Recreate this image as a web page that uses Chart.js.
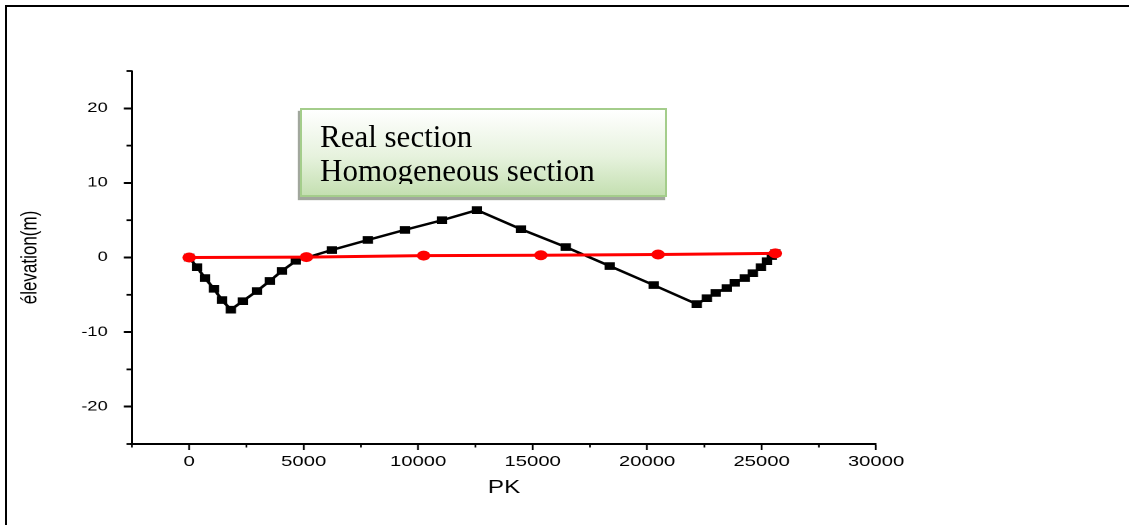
<!DOCTYPE html>
<html>
<head>
<meta charset="utf-8">
<script src="https://cdn.jsdelivr.net/npm/chart.js@4.4.1/dist/chart.umd.min.js"></script>
<style>
  html, body { margin: 0; padding: 0; background: #fff; }
  body { width: 1129px; height: 525px; position: relative; overflow: hidden; }
  #frame {
    position: absolute; left: 5px; top: 5px; right: -20px; bottom: -20px;
    border-top: 2px solid #000; border-left: 2px solid #000;
  }
  #wrap {
    position: absolute; left: 0; top: 0; width: 836px; height: 525px;
    transform: scaleX(1.35048); transform-origin: 0 0;
  }
  #note {
    position: absolute; left: 300px; top: 108px; width: 363px; height: 85px;
    border: 2px solid #a4cd8b;
    background: linear-gradient(to bottom, #ffffff 0%, #e6f2dd 55%, #c4dfb1 100%);
    box-shadow: -2px 3px 1px rgba(110, 120, 105, 0.65);
  }
  #noteText {
    position: absolute; left: 320px; top: 120px; width: 340px; height: 64px;
    overflow: hidden; font-family: "Liberation Serif", "Times New Roman", serif;
    font-size: 31px; line-height: 34px; color: #000; white-space: nowrap;
  }
</style>
</head>
<body>
<div id="frame"></div>
<div id="wrap"><canvas id="c"></canvas></div>
<div id="note"></div>
<div id="noteText"></div>
<script>
// Longitudinal profile: chainage PK (m) against elevation (m)
const seriesNames = ['Real section', 'Homogeneous section'];

const pkReal = [0, 340, 690, 1080, 1430, 1820, 2340, 2960, 3520, 4050, 4660,
  6230, 7800, 9420, 11040, 12570, 14490, 16450, 18370, 20290, 22170,
  22610, 23000, 23480, 23830, 24270, 24620, 24970, 25230, 25450, 25600];
const elevReal = [0, -1.3, -2.75, -4.2, -5.7, -7.0, -5.85, -4.5, -3.15, -1.8, -0.45,
  1.0, 2.35, 3.7, 5.0, 6.35, 3.8, 1.4, -1.15, -3.7, -6.25,
  -5.45, -4.75, -4.1, -3.4, -2.75, -2.1, -1.3, -0.5, 0.2, 0.6];

const pkHomog = [0, 5120, 10240, 15360, 20480, 25600];
const elevHomog = [0, 0.05, 0.25, 0.3, 0.4, 0.55];

const pkMajorTicks = [0, 5000, 10000, 15000, 20000, 25000, 30000];
const pkMinorTicks = [-2500, 2500, 7500, 12500, 17500, 22500, 27500];
const elevMajorTicks = [-20, -10, 0, 10, 20];
const elevMinorTicks = [-25, -15, -5, 5, 15, 25];

// text box naming the two profiles
document.getElementById('noteText').innerHTML = seriesNames.join('<br>');

const toPoints = (xs, ys) => xs.map((x, i) => ({ x: x, y: ys[i] }));

// short unlabelled ticks between the labelled ones
const minorTicks = {
  id: 'minorTicks',
  afterDraw(chart) {
    const ctx = chart.ctx;
    const xs = chart.scales.x, ys = chart.scales.y;
    const area = chart.chartArea;
    ctx.save();
    ctx.strokeStyle = '#000';
    ctx.lineWidth = 1.3;
    pkMinorTicks.forEach(v => {
      const px = xs.getPixelForValue(v);
      ctx.beginPath(); ctx.moveTo(px, area.bottom); ctx.lineTo(px, area.bottom + 3.5); ctx.stroke();
    });
    ctx.lineWidth = 1.8;
    elevMinorTicks.forEach(v => {
      const py = ys.getPixelForValue(v);
      ctx.beginPath(); ctx.moveTo(area.left, py); ctx.lineTo(area.left - 4, py); ctx.stroke();
    });
    ctx.restore();
  }
};

new Chart(document.getElementById('c'), {
  type: 'line',
  data: {
    datasets: [
      {
        label: seriesNames[0],
        data: toPoints(pkReal, elevReal),
        borderColor: '#000', backgroundColor: '#000',
        borderWidth: 2.4, pointStyle: 'rect', pointRadius: 5.4,
        pointBorderWidth: 0, tension: 0, order: 1
      },
      {
        label: seriesNames[1],
        data: toPoints(pkHomog, elevHomog),
        borderColor: '#ff0000', backgroundColor: '#ff0000',
        borderWidth: 3, pointStyle: 'circle', pointRadius: 5,
        pointBorderWidth: 0, tension: 0, order: 0
      }
    ]
  },
  options: {
    responsive: true,
    maintainAspectRatio: false,
    animation: false,
    devicePixelRatio: 2,
    layout: { padding: { left: 0, right: 187.3, top: 71, bottom: 0 } },
    plugins: { legend: { display: false }, tooltip: { enabled: false } },
    scales: {
      x: {
        type: 'linear', min: -2500, max: 30000,
        afterBuildTicks: s => { s.ticks = pkMajorTicks.map(v => ({ value: v })); },
        afterFit: s => { s.height = 81; },
        grid: { drawOnChartArea: false, drawTicks: true, tickLength: 6, tickWidth: 1.3, tickColor: '#000', color: '#000' },
        border: { display: true, color: '#000', width: 2 },
        ticks: {
          padding: 3, color: '#000', maxRotation: 0, autoSkip: false,
          font: { family: 'Liberation Sans, Arial, sans-serif', size: 15 },
          callback: v => String(v)
        },
        title: {
          display: true, text: 'PK', color: '#000',
          font: { family: 'Liberation Sans, Arial, sans-serif', size: 18 },
          padding: { top: 0, bottom: 26 }
        }
      },
      y: {
        type: 'linear', min: -25, max: 25,
        afterBuildTicks: s => { s.ticks = elevMajorTicks.map(v => ({ value: v })); },
        afterFit: s => { s.width = 97.7; },
        grid: { drawOnChartArea: false, drawTicks: true, tickLength: 6, tickWidth: 2, tickColor: '#000', color: '#000' },
        border: { display: true, color: '#000', width: 1.5 },
        ticks: {
          padding: 12, color: '#000', autoSkip: false,
          font: { family: 'Liberation Sans, Arial, sans-serif', size: 13.5 },
          callback: v => String(v)
        },
        title: {
          display: true, text: 'élevation(m)', color: '#000',
          font: { family: 'Liberation Sans, Arial, sans-serif', size: 17 },
          padding: { top: 12, bottom: 0 }
        }
      }
    }
  },
  plugins: [minorTicks]
});
</script>
</body>
</html>
